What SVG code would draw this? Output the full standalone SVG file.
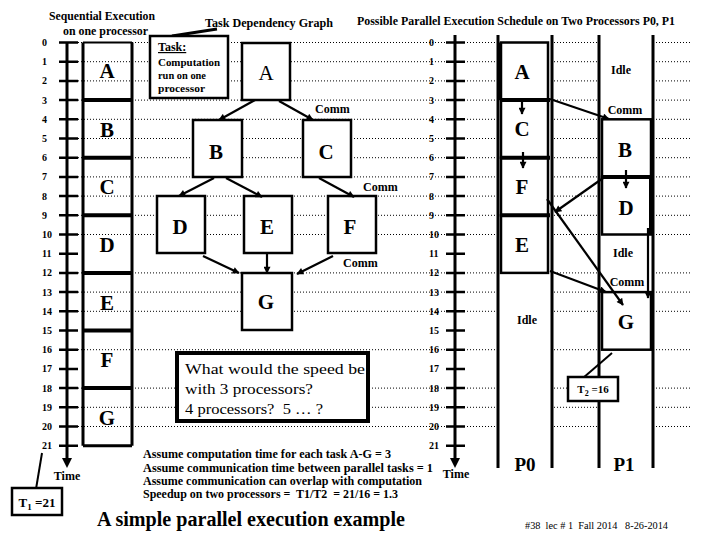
<svg xmlns="http://www.w3.org/2000/svg" width="720" height="540" viewBox="0 0 720 540" font-family="'Liberation Serif', 'DejaVu Serif', serif">
<defs>
<marker id="ah" viewBox="0 0 10 10" refX="9" refY="5" markerWidth="8" markerHeight="7" markerUnits="userSpaceOnUse" orient="auto">
<path d="M0,0 L10,5 L0,10 z" fill="#000"/>
</marker>
</defs>
<style>
text{font-family:'Liberation Serif','DejaVu Serif',serif;fill:#000}
.b{font-weight:bold}
.tk{font-size:10px;font-weight:bold}
.big{font-size:21px;font-weight:bold}
.lab{font-size:12px;font-weight:bold}
.dot{stroke:#000;stroke-width:1;stroke-dasharray:1,2;fill:none}
.ln{stroke:#000;stroke-width:3;fill:none}
.box{stroke:#000;stroke-width:2.5;fill:#fff}
.arr{stroke:#000;stroke-width:2.2;fill:none;marker-end:url(#ah)}
.tick{stroke:#000;stroke-width:2.5}
</style>
<rect width="720" height="540" fill="#fff"/>

<g id="grid">
<path class="dot" d="M60,42.5H446M464,42.5H692M60,61.7H446M464,61.7H692M60,80.9H446M464,80.9H692M60,100.1H446M464,100.1H692M60,119.3H446M464,119.3H692M60,138.5H446M464,138.5H692M60,157.7H446M464,157.7H692M60,176.9H446M464,176.9H692M60,196.1H446M464,196.1H692M60,215.3H446M464,215.3H692M60,234.5H446M464,234.5H692M60,272.9H446M464,272.9H692M60,292.1H446M464,292.1H692M60,311.3H446M464,311.3H692M60,349.7H446M464,349.7H692M60,388.1H446M464,388.1H692M60,407.3H446M464,407.3H692M60,426.5H446M464,426.5H692"/>
</g>

<g id="headers">
<text class="b" x="49" y="20" font-size="12" textLength="106" lengthAdjust="spacingAndGlyphs">Sequential Execution</text>
<text class="b" x="63" y="35" font-size="12" textLength="85" lengthAdjust="spacingAndGlyphs">on one processor</text>
<text class="b" x="205" y="27" font-size="13" textLength="128" lengthAdjust="spacingAndGlyphs">Task Dependency Graph</text>
<text class="b" x="357" y="25" font-size="12" textLength="318" lengthAdjust="spacingAndGlyphs">Possible Parallel Execution Schedule on Two Processors P0, P1</text>
</g>

<g id="left-axis">
<line x1="67" y1="42" x2="67" y2="460" class="ln" stroke-width="2.5"/>
<path d="M62,458 L72,458 L67,468 z" fill="#000"/>
<path class="tick" d="M59,42.5H78M59,61.7H78M59,80.9H78M59,100.1H78M59,119.3H78M59,138.5H78M59,157.7H78M59,176.9H78M59,196.1H78M59,215.3H78M59,234.5H78M59,253.7H78M59,272.9H78M59,292.1H78M59,311.3H78M59,330.5H78M59,349.7H78M59,368.9H78M59,388.1H78M59,407.3H78M59,426.5H78M59,445.7H78"/>
<g class="tk">
<text x="42" y="46">0</text><text x="42" y="65.2">1</text><text x="42" y="84.4">2</text><text x="42" y="103.6">3</text><text x="42" y="122.8">4</text><text x="42" y="142">5</text><text x="42" y="161.2">6</text><text x="42" y="180.4">7</text><text x="42" y="199.6">8</text><text x="42" y="218.8">9</text><text x="42" y="238">10</text><text x="42" y="257.2">11</text><text x="42" y="276.4">12</text><text x="42" y="295.6">13</text><text x="42" y="314.8">14</text><text x="42" y="334">15</text><text x="42" y="353.2">16</text><text x="42" y="372.4">17</text><text x="42" y="391.6">18</text><text x="42" y="410.8">19</text><text x="42" y="430">20</text><text x="42" y="449.2">21</text>
</g>
<text class="lab" x="67" y="480" text-anchor="middle">Time</text>
</g>

<g id="seq-column">
<path class="ln" d="M83,42.5V445.7M132,42.5V445.7"/>
<path stroke="#000" stroke-width="2" d="M83,42.5H132"/>
<path stroke="#000" stroke-width="4" d="M83,100.1H132M83,157.7H132M83,215.3H132M83,272.9H132M83,330.5H132M83,388.1H132"/>
<path stroke="#000" stroke-width="3" d="M83,445.7H132"/>
<g class="big" text-anchor="middle">
<text x="107" y="78">A</text><text x="107" y="137">B</text><text x="107" y="194">C</text><text x="107" y="252">D</text><text x="107" y="310">E</text><text x="107" y="367">F</text><text x="107" y="425">G</text>
</g>
</g>

<g id="t1">
<line x1="42" y1="453" x2="36" y2="489" stroke="#000" stroke-width="2"/>
<rect x="12" y="488" width="50" height="27" class="box"/>
<text class="b" x="37" y="507" font-size="13" text-anchor="middle">T<tspan font-size="9" dy="3">1</tspan><tspan dy="-3"> =21</tspan></text>
</g>

<g id="task-legend">
<line x1="172" y1="36" x2="217" y2="29" stroke="#000" stroke-width="3"/>
<rect x="150" y="36" width="78" height="62" class="box" stroke-width="3"/>
<text class="b" x="158" y="51" font-size="12" text-decoration="underline">Task:</text>
<text class="b" x="158" y="66" font-size="11" textLength="62" lengthAdjust="spacingAndGlyphs">Computation</text>
<text class="b" x="158" y="79" font-size="11" textLength="48" lengthAdjust="spacingAndGlyphs">run on one</text>
<text class="b" x="158" y="92" font-size="11" textLength="47" lengthAdjust="spacingAndGlyphs">processor</text>
</g>

<g id="gA"><rect x="242" y="43" width="48" height="57" class="box"/><text x="266" y="80" font-size="21" text-anchor="middle">A</text></g>
<g id="gB"><rect x="193" y="120" width="49" height="57" class="box"/><text class="big" x="216" y="159" text-anchor="middle">B</text></g>
<g id="gC"><rect x="303" y="120" width="48" height="57" class="box"/><text class="big" x="326" y="159" text-anchor="middle">C</text></g>
<g id="gD"><rect x="157" y="196" width="48" height="57" class="box"/><text class="big" x="180" y="234" text-anchor="middle">D</text></g>
<g id="gE"><rect x="244" y="196" width="48" height="57" class="box"/><text class="big" x="267" y="234" text-anchor="middle">E</text></g>
<g id="gF"><rect x="328" y="196" width="48" height="57" class="box"/><text class="big" x="350" y="234" text-anchor="middle">F</text></g>
<g id="gG"><rect x="242" y="273" width="50" height="57" class="box"/><text class="big" x="266" y="309" text-anchor="middle">G</text></g>

<g id="graph-edges">
<line class="arr" x1="255" y1="100" x2="219" y2="120"/>
<line class="arr" x1="279" y1="101" x2="313" y2="120"/>
<line class="arr" x1="214" y1="178" x2="179" y2="196"/>
<line class="arr" x1="226" y1="178" x2="262" y2="197"/>
<line class="arr" x1="319" y1="178" x2="354" y2="197"/>
<line class="arr" x1="203" y1="256" x2="239" y2="273"/>
<line class="arr" x1="267" y1="253" x2="267" y2="273"/>
<line class="arr" x1="333" y1="256" x2="297" y2="274"/>
<g class="lab"><text x="315" y="113">Comm</text><text x="363" y="191">Comm</text><text x="343" y="267">Comm</text></g>
</g>

<g id="right-axis">
<line x1="455" y1="35" x2="455" y2="460" class="ln" stroke-width="2.5"/>
<path d="M450,458 L460,458 L455,468 z" fill="#000"/>
<path class="tick" d="M446,42.5H465M446,61.7H465M446,80.9H465M446,100.1H465M446,119.3H465M446,138.5H465M446,157.7H465M446,176.9H465M446,196.1H465M446,215.3H465M446,234.5H465M446,253.7H465M446,272.9H465M446,292.1H465M446,311.3H465M446,330.5H465M446,349.7H465M446,368.9H465M446,388.1H465M446,407.3H465M446,426.5H465M446,445.7H465"/>
<g class="tk">
<text x="429" y="46">0</text><text x="429" y="65.2">1</text><text x="429" y="84.4">2</text><text x="429" y="103.6">3</text><text x="429" y="122.8">4</text><text x="429" y="142">5</text><text x="429" y="161.2">6</text><text x="429" y="180.4">7</text><text x="429" y="199.6">8</text><text x="429" y="218.8">9</text><text x="429" y="238">10</text><text x="429" y="257.2">11</text><text x="429" y="276.4">12</text><text x="429" y="295.6">13</text><text x="429" y="314.8">14</text><text x="429" y="334">15</text><text x="429" y="353.2">16</text><text x="429" y="372.4">17</text><text x="429" y="391.6">18</text><text x="429" y="410.8">19</text><text x="429" y="430">20</text><text x="429" y="449.2">21</text>
</g>
<text class="lab" x="456" y="478" text-anchor="middle">Time</text>
</g>

<g id="p0">
<rect x="498" y="35" width="54" height="433" fill="#fff"/>
<path class="ln" d="M498,35V468M552,35V468"/>
<rect x="501" y="42.5" width="47" height="57.6" class="box"/>
<rect x="501" y="100.1" width="47" height="57.6" class="box"/>
<rect x="501" y="157.7" width="47" height="57.6" class="box"/>
<rect x="501" y="215.3" width="47" height="57.6" class="box"/>
<path stroke="#000" stroke-width="4" d="M500,100.1H550M500,157.7H550M500,215.3H550M500,42.5V100.1"/>
<g class="big" text-anchor="middle">
<text x="522" y="79">A</text><text x="522" y="136">C</text><text x="522" y="194">F</text><text x="522" y="252">E</text>
</g>
<text class="lab" x="527" y="324" text-anchor="middle">Idle</text>
<text x="525" y="471" font-size="19" class="b" text-anchor="middle">P0</text>
</g>

<g id="p1">
<rect x="599" y="35" width="54" height="433" fill="#fff"/>
<path class="ln" d="M599,35V468M653,35V468"/>
<rect x="602" y="119.3" width="49" height="57.6" class="box"/>
<rect x="602" y="176.9" width="49" height="57.6" class="box"/>
<rect x="602" y="292.1" width="49" height="57.6" class="box"/>
<path stroke="#000" stroke-width="4" d="M601,176.9H652M651,176.9V234.5"/>
<g class="big" text-anchor="middle">
<text x="625" y="157">B</text><text x="626" y="215">D</text><text x="626" y="329">G</text>
</g>
<g class="lab" text-anchor="middle">
<text x="621" y="74">Idle</text><text x="625" y="114">Comm</text><text x="623" y="257">Idle</text><text x="627" y="286">Comm</text>
</g>
<text x="624" y="471" font-size="19" class="b" text-anchor="middle">P1</text>
</g>

<g id="schedule-edges">
<line class="arr" x1="550" y1="99" x2="609" y2="119"/>
<line class="arr" x1="522" y1="102" x2="522" y2="114"/>
<line class="arr" x1="523" y1="152" x2="523" y2="168"/>
<line class="arr" x1="626" y1="170" x2="626" y2="188"/>
<line class="arr" x1="606" y1="176" x2="555" y2="212"/>
<line class="arr" x1="547" y1="199" x2="623" y2="305"/>
<line class="arr" x1="550" y1="271" x2="606" y2="292"/>
<line class="arr" x1="648" y1="228" x2="648" y2="298"/>
</g>

<g id="t2">
<line x1="612" y1="353" x2="583" y2="378" stroke="#000" stroke-width="2"/>
<rect x="568" y="377" width="50" height="24" class="box"/>
<text class="b" x="593" y="393" font-size="11" text-anchor="middle">T<tspan font-size="8" dy="3">2</tspan><tspan dy="-3"> =16</tspan></text>
</g>

<g id="question">
<rect x="177" y="353" width="191" height="68" fill="#fff" stroke="#000" stroke-width="4"/>
<text x="185" y="374" font-size="15" textLength="180" lengthAdjust="spacingAndGlyphs">What would the speed be</text>
<text x="185" y="394" font-size="15" textLength="128" lengthAdjust="spacingAndGlyphs">with 3 processors?</text>
<text x="185" y="414" font-size="15" textLength="138" lengthAdjust="spacingAndGlyphs" xml:space="preserve">4 processors?  5 … ?</text>
</g>

<g id="notes" class="b" font-size="12">
<text x="143" y="458" textLength="248" lengthAdjust="spacingAndGlyphs">Assume computation time for each task A-G = 3</text>
<text x="143" y="472" textLength="290" lengthAdjust="spacingAndGlyphs">Assume communication time between parallel tasks = 1</text>
<text x="143" y="485" textLength="279" lengthAdjust="spacingAndGlyphs">Assume communication can overlap with computation</text>
<text x="143" y="498" textLength="255" lengthAdjust="spacingAndGlyphs" xml:space="preserve">Speedup on two processors =  T1/T2  = 21/16 = 1.3</text>
</g>
<text class="b" x="97" y="526" font-size="20" textLength="308" lengthAdjust="spacingAndGlyphs">A simple parallel execution example</text>
<text x="525" y="529" font-size="10" textLength="143" lengthAdjust="spacingAndGlyphs" xml:space="preserve">#38  lec # 1  Fall 2014   8-26-2014</text>
</svg>
